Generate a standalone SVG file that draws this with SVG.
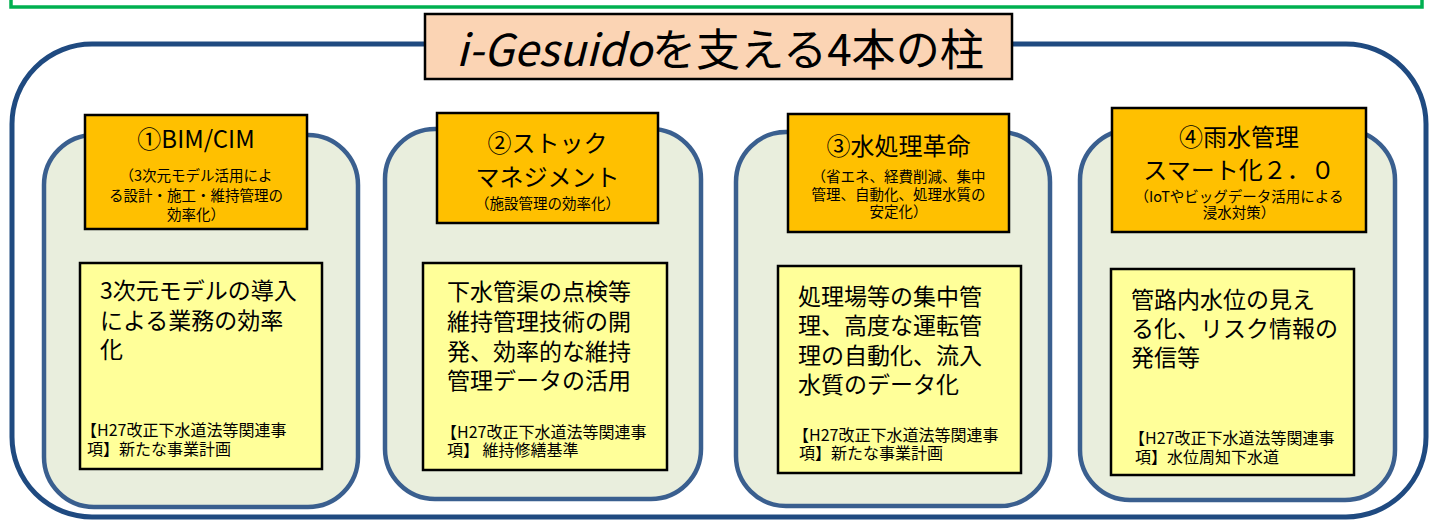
<svg xmlns="http://www.w3.org/2000/svg" width="1437" height="520" viewBox="0 0 1437 520">
<style>
text{font-family:"Noto Sans CJK JP","Noto Sans",sans-serif;fill:#000}
.pillar{fill:#E9EEDD;stroke:#3A5F8F;stroke-width:4.5}
.head{fill:#FFC000;stroke:#000;stroke-width:2.5}
.body{fill:#FFFF99;stroke:#000;stroke-width:2.5}
.h{font-size:24px;text-anchor:middle}
.s{font-size:14.5px;text-anchor:middle}
.b{font-size:23px}
.n{font-size:16px}
</style>
<rect x="0" y="0" width="1437" height="520" fill="#fff"/>
<g id="frame">
<rect x="11" y="-30" width="1411" height="37" fill="none" stroke="#00B050" stroke-width="3.5"/>
<rect x="12" y="44" width="1414" height="473" rx="80" ry="80" fill="#fff" stroke="#1F4A80" stroke-width="5"/>
</g>
<g id="title">
<rect x="425" y="14" width="587" height="65" fill="#FBD4B4" stroke="#000" stroke-width="2.5"/>
<text x="720" y="66" font-size="44" text-anchor="middle" textLength="528" lengthAdjust="spacingAndGlyphs"><tspan font-style="italic">i-Gesuido</tspan>を支える4本の柱</text>
</g>
<g id="connectors"/>
<g id="pillar1">
<rect class="pillar" x="44" y="135" width="314" height="372" rx="50" ry="50"/>
<rect class="head" x="85" y="115" width="222" height="114"/>
<text class="h" x="196" y="148">①BIM/CIM</text>
<text class="s" x="196" y="181">（3次元モデル活用によ</text>
<text class="s" x="196" y="201">る設計・施工・維持管理の</text>
<text class="s" x="196" y="220">効率化）</text>
<rect class="body" x="80" y="263" width="242" height="206"/>
<text class="b" x="100" y="299">3次元モデルの導入</text>
<text class="b" x="100" y="329">による業務の効率</text>
<text class="b" x="100" y="358">化</text>
<text class="n" x="81" y="436">【H27改正下水道法等関連事</text>
<text class="n" x="87" y="455">項】新たな事業計画</text>
</g>
<g id="pillar2">
<rect class="pillar" x="385" y="129" width="316" height="370" rx="50" ry="50"/>
<rect class="head" x="437" y="113" width="221" height="110"/>
<text class="h" x="547.5" y="152">②ストック</text>
<text class="h" x="547.5" y="186">マネジメント</text>
<text class="s" x="547.5" y="209">（施設管理の効率化）</text>
<rect class="body" x="423" y="263" width="244" height="207"/>
<text class="b" x="447" y="300">下水管渠の点検等</text>
<text class="b" x="447" y="330">維持管理技術の開</text>
<text class="b" x="447" y="360">発、効率的な維持</text>
<text class="b" x="447" y="389">管理データの活用</text>
<text class="n" x="441" y="438">【H27改正下水道法等関連事</text>
<text class="n" x="447" y="456">項】 維持修繕基準</text>
</g>
<g id="pillar3">
<rect class="pillar" x="736" y="132" width="314" height="374" rx="50" ry="50"/>
<rect class="head" x="788" y="114" width="221" height="118"/>
<text class="h" x="898.5" y="155">③水処理革命</text>
<text class="s" x="898.5" y="182">（省エネ、経費削減、集中</text>
<text class="s" x="898.5" y="200">管理、自動化、処理水質の</text>
<text class="s" x="898.5" y="217">安定化）</text>
<rect class="body" x="778" y="266" width="243" height="207"/>
<text class="b" x="798" y="305">処理場等の集中管</text>
<text class="b" x="798" y="334">理、高度な運転管</text>
<text class="b" x="798" y="364">理の自動化、流入</text>
<text class="b" x="798" y="393">水質のデータ化</text>
<text class="n" x="793" y="441">【H27改正下水道法等関連事</text>
<text class="n" x="799" y="459">項】新たな事業計画</text>
</g>
<g id="pillar4">
<rect class="pillar" x="1080" y="130" width="315" height="370" rx="50" ry="50"/>
<rect class="head" x="1112" y="108" width="254" height="124"/>
<text class="h" x="1239" y="146">④雨水管理</text>
<text class="h" x="1239" y="179">スマート化２．０</text>
<text class="s" x="1239" y="202">（IoTやビッグデータ活用による</text>
<text class="s" x="1239" y="218">浸水対策）</text>
<rect class="body" x="1111" y="269" width="243" height="206"/>
<text class="b" x="1131" y="308">管路内水位の見え</text>
<text class="b" x="1131" y="337">る化、リスク情報の</text>
<text class="b" x="1131" y="366">発信等</text>
<text class="n" x="1129" y="444">【H27改正下水道法等関連事</text>
<text class="n" x="1135" y="463">項】水位周知下水道</text>
</g>
</svg>
